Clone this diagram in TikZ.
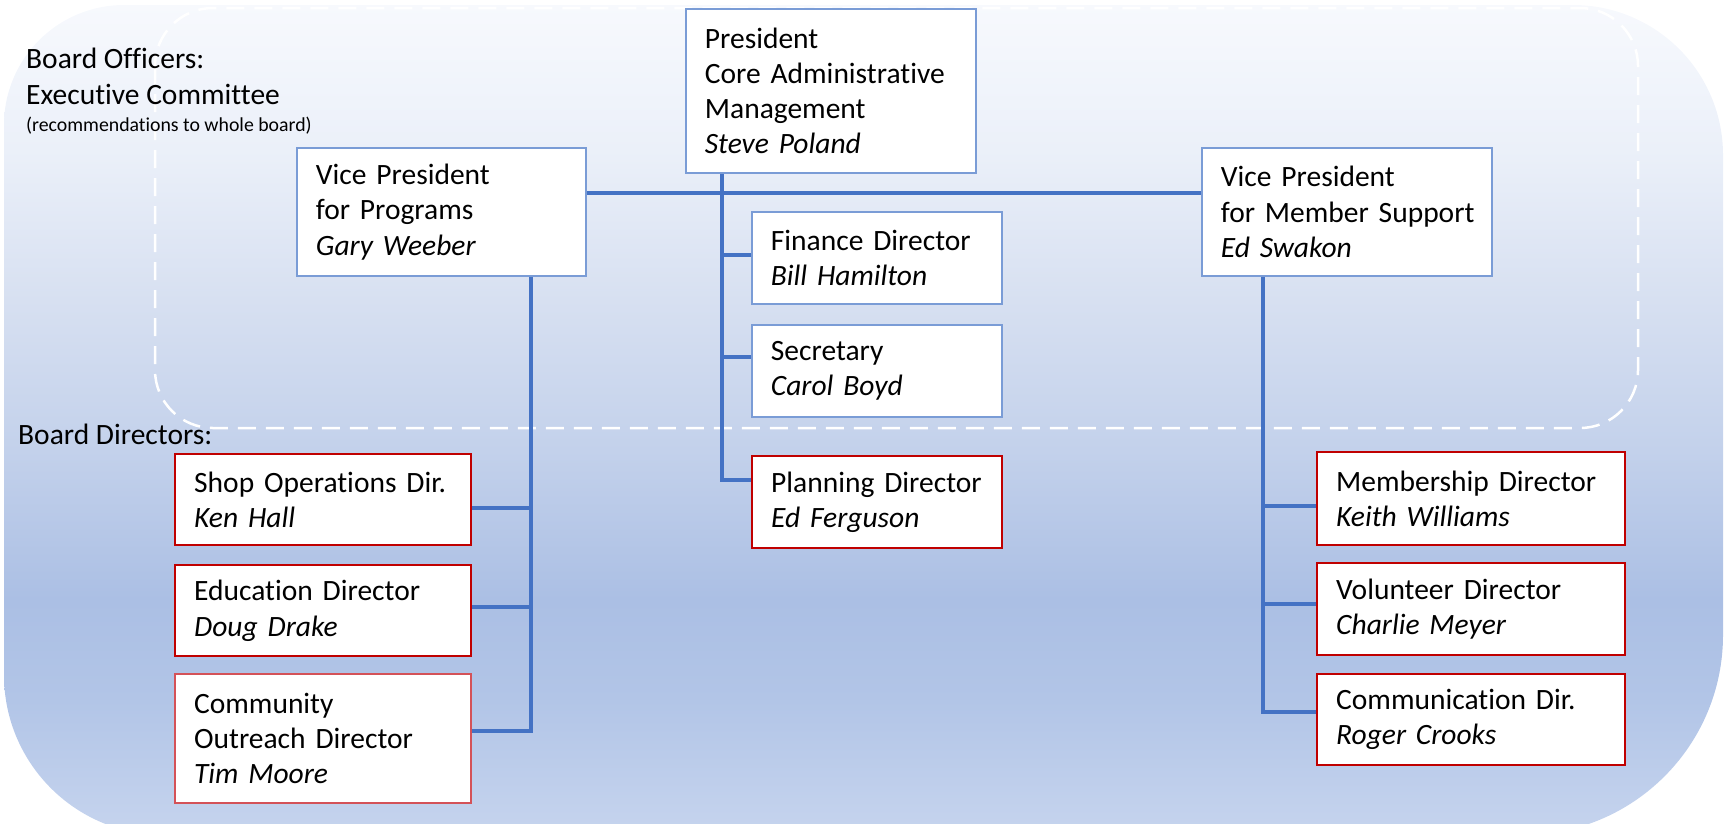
\documentclass[tikz,border=0pt]{standalone}
\usepackage{fontspec}
\setmainfont{Carlito}[Ligatures=NoCommon]
\hfuzz=30pt
\definecolor{g1}{RGB}{247,249,253}
\definecolor{g2}{RGB}{235,240,249}
\definecolor{g3}{RGB}{215,224,241}
\definecolor{g4}{RGB}{195,209,235}
\definecolor{g5}{RGB}{171,191,228}
\definecolor{g6}{RGB}{178,197,231}
\definecolor{g7}{RGB}{198,212,238}
\definecolor{boxblue}{RGB}{122,156,214}
\definecolor{boxred}{RGB}{192,0,0}
\definecolor{boxredlight}{RGB}{212,82,88}
\definecolor{connblue}{RGB}{68,114,196}
\pgfdeclareverticalshading{bgshade}{100bp}{color(0bp)=(g7); color(25bp)=(g7); color(33.13bp)=(g6); color(39.16bp)=(g5); color(48.19bp)=(g4); color(57.23bp)=(g3); color(66.27bp)=(g2); color(75bp)=(g1); color(100bp)=(g1)}
\begin{document}
\begin{tikzpicture}[x=1pt,y=-1pt,
  boxbase/.style={fill=white, anchor=north west, inner xsep=19pt, inner ysep=0pt, align=left,
    font=\fontsize{29.5}{35.3}\selectfont},
  bluebox/.style={boxbase, draw=boxblue, line width=1.8pt},
  redbox/.style={boxbase, draw=boxred, line width=2.4pt},
  lightredbox/.style={boxbase, draw=boxredlight, line width=2.2pt},
  conn/.style={draw=connblue, line width=3.5pt},
  lbl/.style={anchor=base west, inner sep=0pt, font=\fontsize{29.5}{35.3}\selectfont},
  smalllbl/.style={anchor=base west, inner sep=0pt, font=\fontsize{19.8}{24}\selectfont},
  dashframe/.style={draw=white, line width=2.5pt, dash pattern=on 18pt off 10pt, rounded corners=58pt}]
\useasboundingbox (0,0) rectangle (1726,823);
% background
\shade[shading=bgshade] (4,125) arc[start angle=180,end angle=90,radius=120pt]
  -- (1573,5) arc[start angle=90,end angle=0,radius=150pt]
  -- (1723,635) arc[start angle=0,end angle=-90,radius=200pt]
  -- (164,835) arc[start angle=270,end angle=180,radius=160pt] -- cycle;
% executive committee frame
\draw[dashframe] (155,8) rectangle (1638,428);
% labels
\node[lbl] (lo1) at (26,68) {Board Officers:};
\node[lbl] (lo2) at (26,104) {Executive Committee};
\node[smalllbl] (lo3) at (26,131) {(recommendations to whole board)};
\node[lbl] (ld) at (18,444) {Board Directors:};
% boxes
\node[bluebox, text width=252pt, minimum height=164pt] (pres) at (685,8) {President\\Core Administrative\\Management\\\textit{Steve Poland}};
\node[bluebox, text width=251pt, minimum height=128pt] (vpp) at (296,147) {Vice President\\for Programs\\\textit{Gary Weeber}};
\node[bluebox, text width=252pt, minimum height=128pt] (vpm) at (1201,147) {Vice President\\\mbox{for Member Support}\\\textit{Ed Swakon}};
\node[bluebox, text width=212pt, minimum height=92pt] (fin) at (751,211) {Finance Director\\\textit{Bill Hamilton}};
\node[bluebox, text width=212pt, minimum height=92pt] (sec) at (751,324) {Secretary\\\textit{Carol Boyd}};
\node[redbox, text width=212pt, minimum height=92pt] (plan) at (751,455) {\mbox{Planning Director}\\\textit{Ed Ferguson}};
\node[redbox, text width=258pt, minimum height=91pt] (shop) at (174,453) {\mbox{Shop Operations Dir.}\\\textit{Ken Hall}};
\node[redbox, text width=258pt, minimum height=91pt] (edu) at (174,564) {Education Director\\\textit{Doug Drake}};
\node[lightredbox, text width=258pt, minimum height=129pt] (comm) at (174,673) {Community\\Outreach Director\\\textit{Tim Moore}};
\node[redbox, text width=270pt, minimum height=93pt] (memb) at (1316,451) {Membership Director\\\textit{Keith Williams}};
\node[redbox, text width=270pt, minimum height=92pt] (vol) at (1316,562) {Volunteer Director\\\textit{Charlie Meyer}};
\node[redbox, text width=270pt, minimum height=91pt] (comt) at (1316,673) {Communication Dir.\\\textit{Roger Crooks}};
% connectors
\coordinate (hy) at (0,193);
\draw[conn] (vpp.east |- hy) -- (vpm.west |- hy);
\coordinate (ps) at (722,480);
\coordinate (pf) at (722,255);
\coordinate (pc) at (722,357);
\draw[conn] (pres.south -| ps) |- (plan.west |- ps);
\draw[conn] (pf) -- (fin.west |- pf);
\draw[conn] (pc) -- (sec.west |- pc);
\coordinate (ls) at (531,731);
\coordinate (l1) at (531,508);
\coordinate (l2) at (531,607);
\draw[conn] (vpp.south -| ls) |- (comm.east |- ls);
\draw[conn] (l1) -- (shop.east |- l1);
\draw[conn] (l2) -- (edu.east |- l2);
\coordinate (rs) at (1263,712);
\coordinate (r1) at (1263,506);
\coordinate (r2) at (1263,604);
\draw[conn] (vpm.south -| rs) |- (comt.west |- rs);
\draw[conn] (r1) -- (memb.west |- r1);
\draw[conn] (r2) -- (vol.west |- r2);
\end{tikzpicture}
\end{document}
